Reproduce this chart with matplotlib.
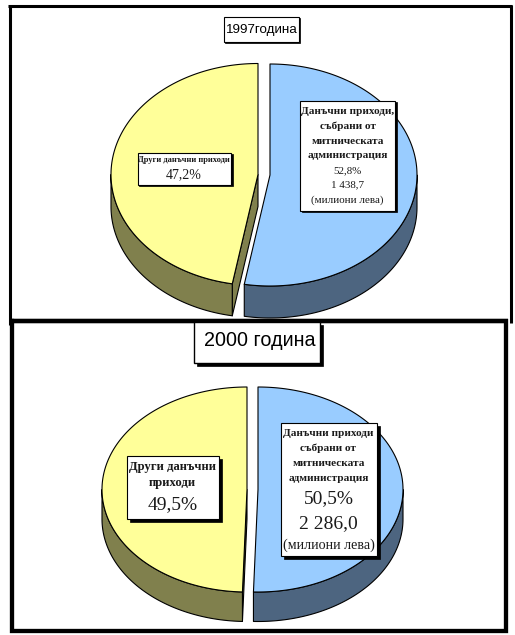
import numpy as np
import matplotlib
matplotlib.use("Agg")
import matplotlib.pyplot as plt
from matplotlib.patches import Rectangle

# ---- data ----
years = ["1997година", "2000 година"]
customs_share = [52.8, 50.5]
other_share = [47.2, 49.5]
customs_amount = ["1 438,7", "2 286,0"]
customs_names = [["Данъчни приходи,", "събрани от", "митническата", "администрация"],
                 ["Данъчни приходи", "събрани от", "митническата", "администрация"]]
other_names = [["Други данъчни приходи"], ["Други данъчни", "приходи"]]
unit = "(милиони лева)"

BLUE, BLUE_D = "#99CCFF", "#4D6580"
YEL, YEL_D = "#FFFF99", "#80804D"
SERIF = "Liberation Serif"
SANS = "Liberation Sans"

fig = plt.figure(figsize=(5.15, 6.35), dpi=100)
ax = fig.add_axes([0, 0, 1, 1])
ax.set_xlim(0, 515)
ax.set_ylim(635, 0)
ax.axis("off")


def pt(cx, cy, rx, ry, a):
    a = np.radians(a)
    return cx + rx * np.sin(a), cy - ry * np.cos(a)


def wedge(cx, cy, rx, ry, depth, a0, a1, col, dark):
    """a0..a1: degrees clockwise from 12 o'clock."""
    kw = dict(edgecolor="black", linewidth=0.8, joinstyle="round")
    # radial cut face, where it faces the viewer
    if np.sin(np.radians(a0)) < 0:
        x, y = pt(cx, cy, rx, ry, a0)
        ax.fill([cx, x, x, cx], [cy, y, y + depth, cy + depth], facecolor=dark, **kw)
    # outer wall on the front half
    lo, hi = max(a0, 90), min(a1, 270)
    if hi > lo:
        t = np.linspace(lo, hi, 120)
        x, y = pt(cx, cy, rx, ry, t)
        ax.fill(np.r_[x, x[::-1]], np.r_[y, (y + depth)[::-1]], facecolor=dark, **kw)
    # top
    t = np.linspace(a0, a1, 240)
    x, y = pt(cx, cy, rx, ry, t)
    ax.fill(np.r_[cx, x], np.r_[cy, y], facecolor=col, **kw)


def box(x0, y0, x1, y1, shadow, lw=0.8):
    ax.add_patch(Rectangle((x0 + shadow, y0 + shadow), x1 - x0, y1 - y0, fc="black", ec="black", lw=0.5, zorder=5))
    ax.add_patch(Rectangle((x0, y0), x1 - x0, y1 - y0, fc="white", ec="black", lw=lw, zorder=6))


def txt(x, y, s, size, bold=False, fam=SERIF, color="#1a1a1a"):
    ax.text(x, y, s, fontsize=size, fontweight="bold" if bold else "normal", family=fam,
            ha="center", va="center", color=color, zorder=7)


def pie(i, blue_c, yel_c, rx, ry, depth):
    split = customs_share[i] / (customs_share[i] + other_share[i]) * 360
    wedge(*yel_c, rx, ry, depth, split, 360, YEL, YEL_D)
    wedge(*blue_c, rx, ry, depth, 0, split, BLUE, BLUE_D)


# ---- frames ----
kw = dict(color="black", solid_capstyle="butt", zorder=1)
ax.plot([9.5, 9.5], [4.9, 325], lw=2.2, **kw)
ax.plot([8.4, 512], [6, 6], lw=2.2, **kw)
ax.plot([511, 511], [4.9, 323], lw=2.2, **kw)
ax.plot([12, 12, 505.5, 505.5, 12], [321, 630.5, 630.5, 321, 321], lw=3.1,
        color="black", solid_joinstyle="miter", zorder=1)
ax.plot([9, 508], [321, 321], lw=3.1, **kw)

# ---- 1997 ----
pie(0, (270, 175), (258, 174.5), 147, 111, 32)
box(224, 17, 299, 42, 1.2)
txt(261.5, 29.5, years[0], 9.6, fam=SANS, color="black")
box(300, 100.5, 395, 210.5, 1.5)
for y, s in zip([112, 126.5, 141, 155.5], customs_names[0]):
    txt(347.5, y, s, 8.1, True)
txt(347.5, 170.5, f"{customs_share[0]}%".replace(".", ","), 7.9)
txt(347.5, 185, customs_amount[0], 7.9)
txt(347.5, 200, unit, 7.9)
box(137.5, 152.5, 231, 184.5, 1.5)
txt(184, 160.5, other_names[0][0], 6.1, True)
txt(184, 174.5, f"{other_share[0]}%".replace(".", ","), 10)

# ---- 2000 ----
pie(1, (258, 489.5), (247, 489.5), 145, 102.5, 29.5)
box(194, 322, 320, 362.5, 3, 1.0)
txt(259.5, 341, years[1], 14.2, fam=SANS, color="black")
box(280.5, 422.5, 377, 556, 3)
for y, s in zip([433, 448, 463, 478.5], customs_names[1]):
    txt(328.5, y, s, 8.1, True)
txt(328.5, 499, f"{customs_share[1]}%".replace(".", ","), 14)
txt(328.5, 523.5, customs_amount[1], 14)
txt(328.5, 545.5, unit, 10.1)
box(127, 456, 219, 519, 3)
txt(172.5, 467, other_names[1][0], 9.1, True)
txt(172.5, 483, other_names[1][1], 9.1, True)
txt(172.5, 505, f"{other_share[1]}%".replace(".", ","), 14)

fig.savefig("out.png", dpi=100, facecolor="white")
